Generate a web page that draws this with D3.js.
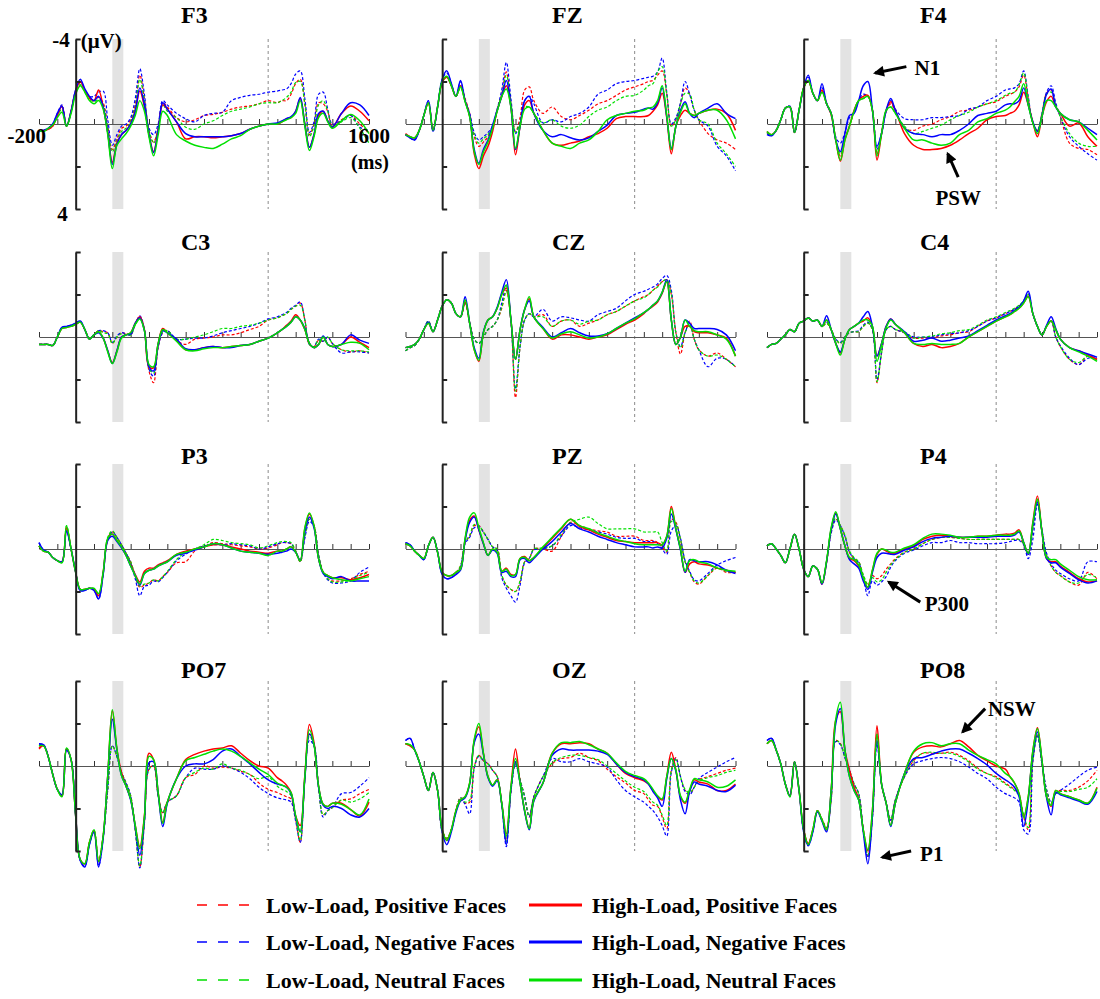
<!DOCTYPE html>
<html>
<head>
<meta charset="utf-8">
<script src="https://cdn.jsdelivr.net/npm/d3@7"></script>
<style>
  body { margin: 0; background: #fff; }
  text { font-family: "Liberation Serif", "Times New Roman", serif; font-weight: bold; fill: #000; }
</style>
</head>
<body>
<svg id="chart" width="1100" height="999"></svg>
<script>
// sample times (ms) shared by every waveform
var times = [-200,-175,-150,-125,-100,-75,-50,-25,0,25,50,75,100,125,150,175,200,225,250,275,300,325,350,375,400,425,450,475,500,
  550,600,650,700,750,800,850,900,950,1000,1050,
  1100,1125,1150,1175,1200,1225,1250,1275,1300,1325,1350,1375,1400,
  1450,1500,1550,1600];

// µV, negative plotted upward. lp/ln/lu = low load pos/neg/neutral, hp/hn/hu = high load
var F3_lp = [0.3,0.3,0.25,0.1,-0.4,-0.8,0.1,-0.6,-1.5,-1.95,-1.6,-1.2,-1.1,-1.25,-1.0,0.1,1.2,0.7,0.2,0.1,-0.2,-0.9,-2.3,-1.2,0.3,0.85,0.2,-1.0,-0.8,-0.3,-0.1,-0.2,-0.4,-0.45,-0.55,-0.7,-0.8,-0.85,-0.95,-1.1,-1.0,-1.1,-1.1,-1.4,-1.9,-2.1,-1.0,0.5,0.0,-1.0,-0.95,-0.6,0.1,-0.2,-0.4,0.0,0.4];
var F3_ln = [0.35,0.3,0.2,0.0,-0.5,-0.9,0.1,-0.6,-1.6,-2.0,-1.6,-1.3,-1.3,-1.5,-1.55,-0.2,1.0,0.5,0.1,0.0,-0.3,-1.2,-2.6,-1.4,0.2,0.5,0.0,-1.1,-0.9,-0.5,-0.25,-0.1,-0.4,-0.5,-0.55,-1.1,-1.25,-1.35,-1.4,-1.5,-1.55,-1.6,-1.65,-1.9,-2.35,-2.5,-1.2,0.4,-0.1,-1.4,-1.5,-0.7,0.0,-0.15,-0.4,0.15,0.3];
var F3_lu = [0.3,0.35,0.2,0.05,-0.35,-0.7,0.1,-0.55,-1.45,-1.85,-1.5,-1.15,-1.05,-1.15,-0.9,0.2,1.3,0.8,0.35,0.2,-0.1,-0.8,-2.1,-1.1,0.3,0.9,0.2,-0.9,-0.6,-0.3,0.15,0.25,0.0,-0.15,-0.4,-0.6,-0.7,-0.8,-0.95,-1.0,-1.0,-1.1,-1.25,-1.5,-1.95,-2.0,-0.9,0.6,0.1,-0.9,-1.1,-0.6,0.1,-0.1,-0.3,0.2,0.9];
var F3_hp = [0.3,0.3,0.25,0.1,-0.4,-0.85,0.1,-0.6,-1.55,-2.0,-1.6,-1.25,-1.1,-1.6,-0.8,0.4,1.8,0.9,0.5,0.3,0.0,-0.6,-1.55,-0.8,0.5,1.3,0.3,-0.9,-0.7,-0.1,0.7,0.6,0.6,0.65,0.6,0.55,0.45,0.25,0.1,0.0,0.0,-0.1,-0.25,-0.3,-0.6,-1.2,0.0,1.1,0.5,-0.4,-0.6,-0.15,0.15,-0.5,-0.85,-0.6,-0.15];
var F3_hn = [0.35,0.3,0.2,0.0,-0.5,-0.85,0.1,-0.6,-1.6,-2.1,-1.65,-1.3,-1.1,-1.3,-0.8,0.4,1.9,0.95,0.5,0.3,0.0,-0.6,-1.7,-0.9,0.5,1.35,0.3,-1.0,-0.7,-0.1,0.45,0.6,0.6,0.6,0.6,0.55,0.45,0.25,0.1,0.0,-0.05,-0.15,-0.25,-0.35,-0.6,-1.25,0.0,1.1,0.5,-0.5,-0.6,-0.15,0.15,-0.5,-1.0,-0.9,-0.4];
var F3_hu = [0.3,0.35,0.2,0.05,-0.3,-0.55,0.1,-0.5,-1.4,-1.8,-1.5,-1.1,-0.95,-1.1,-0.7,0.5,2.1,1.0,0.7,0.45,0.1,-0.4,-1.1,-0.6,0.6,1.5,0.5,-0.6,-0.4,0.5,0.8,1.0,1.1,1.15,0.95,0.7,0.55,0.25,0.1,0.0,0.0,-0.1,-0.2,-0.3,-0.5,-1.1,0.1,1.25,0.6,-0.3,-0.5,-0.1,0.2,-0.15,-0.45,-0.15,0.45];

var FZ_lp = [0.5,0.65,0.7,0.3,-0.4,-1.0,0.3,-0.8,-1.95,-2.2,-1.8,-1.3,-1.8,-1.2,-0.5,0.6,1.05,0.85,0.6,0.2,-0.6,-1.4,-2.45,-1.0,0.35,-0.3,-1.6,-1.75,-1.1,-0.5,-0.8,-0.35,-0.2,-0.4,-0.65,-0.95,-1.1,-1.35,-1.6,-1.75,-1.9,-2.0,-2.05,-2.3,-2.5,-1.4,0.1,-0.2,-0.95,-1.7,-1.4,-0.65,-0.2,0.45,0.75,0.9,1.2];
var FZ_ln = [0.5,0.65,0.75,0.3,-0.4,-1.1,0.35,-0.8,-2.1,-2.4,-1.9,-1.3,-2.0,-1.1,-0.5,0.4,0.75,0.6,0.4,0.1,-0.7,-1.6,-2.9,-1.2,0.45,-0.1,-1.1,-1.3,-0.95,-0.05,-0.2,-0.1,-0.35,-0.5,-0.8,-1.4,-1.6,-1.9,-2.0,-2.05,-2.15,-2.2,-2.25,-2.45,-3.1,-1.5,0.0,-0.3,-1.0,-2.0,-1.4,-0.65,-0.2,0.1,1.05,1.5,2.2];
var FZ_lu = [0.5,0.6,0.65,0.3,-0.4,-1.0,0.3,-0.8,-2.0,-2.2,-1.8,-1.3,-1.7,-1.05,-0.4,0.5,0.9,0.7,0.5,0.15,-0.6,-1.35,-2.3,-1.0,0.4,-0.1,-0.8,-0.8,-0.5,-0.05,-0.2,0.1,0.2,0.05,-0.35,-0.65,-0.8,-1.1,-1.3,-1.35,-1.6,-1.8,-1.9,-2.45,-2.7,-1.4,0.1,-0.2,-0.95,-1.45,-1.4,-0.65,-0.2,0.0,0.9,1.4,2.0];
var FZ_hp = [0.45,0.6,0.65,0.3,-0.4,-1.0,0.3,-0.8,-1.95,-2.2,-1.8,-1.3,-1.8,-1.1,-0.35,1.4,2.1,1.5,1.05,0.35,-0.65,-1.3,-1.8,-0.8,1.45,0.1,-0.9,-1.1,-0.5,0.3,0.9,1.0,0.9,0.8,0.6,0.45,0.2,-0.25,-0.35,-0.35,-0.35,-0.4,-0.6,-0.9,-1.45,-0.3,1.4,0.1,-0.4,-0.65,-0.5,-0.4,-0.5,-0.65,-0.7,-0.5,0.3];
var FZ_hn = [0.5,0.65,0.75,0.3,-0.4,-1.1,0.35,-0.8,-2.1,-2.5,-1.9,-1.3,-2.05,-1.1,-0.4,1.2,1.85,1.2,0.75,0.05,-0.65,-1.3,-2.05,-0.8,1.2,0.1,-1.1,-1.3,-0.5,0.3,0.6,0.5,0.65,0.75,0.65,0.35,0.05,-0.4,-0.5,-0.55,-0.7,-0.75,-0.7,-1.0,-1.7,-0.35,1.15,0.1,-0.65,-1.05,-0.5,-0.3,-0.5,-0.75,-0.95,-0.5,-0.25];
var FZ_hu = [0.5,0.6,0.65,0.3,-0.4,-1.0,0.3,-0.8,-2.0,-2.25,-1.8,-1.3,-1.75,-1.05,-0.35,1.3,1.9,1.3,0.85,0.2,-0.6,-1.3,-1.65,-0.8,1.15,0.1,-0.7,-0.8,-0.5,0.3,0.9,1.05,1.15,0.9,0.75,0.35,-0.2,-0.4,-0.5,-0.6,-0.65,-0.75,-0.8,-1.1,-1.8,-0.4,1.2,0.1,-0.55,-0.95,-0.5,-0.4,-0.5,-0.65,-0.65,-0.2,0.7];

var F4_lp = [0.4,0.5,0.3,-0.2,-0.75,-0.8,0.4,-0.65,-1.7,-2.05,-1.45,-1.1,-1.55,-0.95,-0.4,0.8,1.5,0.7,0.1,-0.6,-1.1,-1.2,-1.3,-0.65,1.4,0.45,-0.6,-0.95,-0.6,0.2,0.3,0.1,0.0,-0.2,-0.35,-0.6,-0.65,-0.8,-0.95,-1.05,-1.3,-1.4,-1.5,-1.75,-2.3,-1.2,-0.05,0.3,-0.5,-1.45,-1.6,-0.9,-0.35,0.9,1.15,1.2,1.45];
var F4_ln = [0.45,0.55,0.3,-0.2,-0.75,-0.85,0.4,-0.65,-1.7,-2.2,-1.45,-1.1,-1.7,-1.0,-0.5,0.6,0.9,0.4,-0.3,-0.5,-1.1,-1.4,-1.3,-0.65,1.2,0.4,-0.6,-1.1,-0.7,-0.25,-0.2,-0.2,-0.3,-0.3,-0.35,-0.4,-0.7,-0.8,-1.1,-1.3,-1.6,-1.65,-1.7,-1.9,-2.5,-1.3,-0.05,0.3,-0.5,-1.5,-1.8,-1.0,-0.35,0.6,1.05,1.4,1.7];
var F4_lu = [0.4,0.5,0.3,-0.2,-0.75,-0.8,0.4,-0.65,-1.7,-2.05,-1.45,-1.1,-1.5,-0.95,-0.45,0.75,1.4,0.7,0.1,-0.6,-1.1,-1.2,-1.3,-0.65,1.35,0.45,-0.6,-0.8,-0.5,0.1,0.45,0.35,0.2,0.05,-0.2,-0.4,-0.55,-0.8,-0.95,-1.1,-1.35,-1.45,-1.5,-1.85,-2.4,-1.2,-0.05,0.3,-0.45,-1.4,-1.5,-0.9,-0.35,0.45,0.9,1.05,1.05];
var F4_hp = [0.35,0.5,0.3,-0.2,-0.75,-0.8,0.4,-0.65,-1.7,-2.05,-1.45,-1.1,-1.6,-0.95,-0.5,0.75,1.75,0.75,0.1,-0.65,-1.1,-1.3,-1.35,-0.65,1.7,0.45,-0.65,-1.05,-0.65,0.45,1.0,1.2,1.2,1.15,1.0,0.75,0.45,0.2,-0.2,-0.35,-0.4,-0.5,-0.6,-0.9,-1.5,-0.9,-0.1,0.6,-0.35,-1.05,-1.3,-0.8,-0.5,0.1,-0.05,0.6,1.05];
var F4_hn = [0.5,0.55,0.3,-0.2,-0.75,-0.8,0.4,-0.65,-1.7,-2.3,-1.45,-1.1,-1.9,-0.95,-0.5,0.75,1.3,0.45,-0.4,-0.5,-1.1,-1.8,-2.0,-0.65,1.05,0.45,-0.65,-1.2,-0.65,0.2,0.45,0.5,0.6,0.5,0.5,0.3,0.0,-0.4,-0.5,-0.6,-0.9,-0.95,-0.95,-1.1,-1.7,-0.9,-0.1,0.35,-0.35,-1.4,-1.65,-0.8,-0.5,-0.2,-0.1,0.2,0.5];
var F4_hu = [0.35,0.5,0.3,-0.2,-0.75,-0.8,0.4,-0.65,-1.7,-2.05,-1.45,-1.1,-1.5,-0.95,-0.5,0.75,1.7,0.75,0.1,-0.6,-1.1,-1.2,-1.3,-0.65,1.5,0.45,-0.65,-0.8,-0.5,0.2,0.75,0.75,0.9,1.0,0.9,0.5,0.3,-0.1,-0.25,-0.5,-0.65,-0.8,-1.05,-1.3,-1.9,-0.9,-0.05,0.45,-0.35,-1.1,-1.1,-0.8,-0.5,-0.2,-0.1,0.3,0.75];

var C3_lp = [0.35,0.35,0.35,0.4,0.0,-0.4,-0.5,-0.55,-0.6,-0.7,-0.35,0.05,-0.1,-0.3,-0.25,-0.2,0.3,0.0,-0.2,-0.15,-0.1,-0.6,-0.95,-0.3,1.6,2.15,0.5,-0.2,-0.3,0.15,0.35,0.1,0.05,0.0,-0.1,-0.1,-0.2,-0.35,-0.5,-0.8,-0.9,-1.0,-1.1,-1.3,-1.45,-1.6,-0.8,0.35,0.45,0.15,0.2,0.0,0.3,0.6,0.7,0.65,0.75];
var C3_ln = [0.35,0.35,0.35,0.4,0.0,-0.45,-0.5,-0.55,-0.65,-0.75,-0.35,0.05,-0.1,-0.3,-0.3,-0.2,0.25,-0.05,-0.2,-0.15,-0.1,-0.6,-1.0,-0.35,1.5,1.85,0.45,-0.2,-0.3,0.1,0.1,0.05,0.05,-0.05,-0.2,-0.3,-0.4,-0.5,-0.65,-0.85,-0.95,-1.05,-1.15,-1.35,-1.5,-1.65,-0.8,0.35,0.45,0.1,0.2,0.0,0.3,0.75,0.7,0.7,0.75];
var C3_lu = [0.35,0.35,0.35,0.4,0.0,-0.4,-0.5,-0.55,-0.6,-0.7,-0.35,0.05,-0.1,-0.3,-0.2,-0.15,0.3,0.0,-0.15,-0.1,-0.1,-0.55,-0.9,-0.3,1.45,1.7,0.4,-0.25,-0.3,0.1,0.1,0.0,-0.1,-0.25,-0.4,-0.4,-0.5,-0.55,-0.65,-0.8,-0.9,-1.0,-1.1,-1.3,-1.45,-1.5,-0.8,0.35,0.45,0.15,0.2,0.0,0.3,0.6,0.65,0.65,0.7];
var C3_hp = [0.35,0.35,0.35,0.4,0.0,-0.4,-0.45,-0.5,-0.6,-0.7,-0.35,0.1,-0.1,-0.25,0.05,0.65,1.2,0.65,0.0,-0.1,-0.2,-0.65,-0.95,-0.35,1.4,1.45,0.3,-0.4,-0.2,0.15,0.6,0.6,0.5,0.45,0.5,0.45,0.4,0.35,0.2,0.05,-0.2,-0.35,-0.55,-0.75,-1.05,-0.8,-0.35,0.3,0.5,0.35,0.0,0.35,0.45,0.35,0.0,0.25,0.5];
var C3_hn = [0.35,0.35,0.35,0.4,0.0,-0.45,-0.5,-0.55,-0.65,-0.75,-0.35,0.1,-0.1,-0.2,0.05,0.65,1.25,0.65,0.0,-0.1,-0.15,-0.65,-0.9,-0.3,1.4,1.6,0.35,-0.3,-0.2,0.1,0.55,0.6,0.5,0.45,0.5,0.5,0.4,0.35,0.2,0.05,-0.2,-0.35,-0.5,-0.7,-0.95,-0.8,-0.4,0.3,0.5,0.35,-0.05,0.35,0.45,0.35,-0.1,0.15,0.3];
var C3_hu = [0.35,0.35,0.35,0.4,0.0,-0.4,-0.45,-0.5,-0.6,-0.7,-0.35,0.1,-0.1,-0.25,0.05,0.7,1.25,0.7,0.05,-0.1,-0.2,-0.6,-0.85,-0.3,1.3,1.4,0.3,-0.35,-0.2,0.2,0.6,0.65,0.55,0.5,0.5,0.45,0.4,0.35,0.2,0.05,-0.2,-0.35,-0.5,-0.7,-0.95,-0.8,-0.35,0.3,0.5,0.35,0.0,0.35,0.45,0.35,0.25,0.3,0.6];

var CZ_lp = [0.65,0.5,0.4,0.1,-0.35,-0.75,-0.25,-0.8,-1.45,-1.75,-1.6,-1.1,-0.95,-1.65,-0.65,0.1,0.3,0.0,-0.35,-0.5,-0.8,-1.35,-2.2,-0.8,2.85,0.45,-0.8,-1.1,-0.95,-1.05,-0.5,-0.75,-0.8,-0.5,-0.65,-0.8,-1.05,-1.2,-1.45,-1.7,-1.9,-2.0,-2.2,-2.4,-2.6,-2.7,-2.0,-0.2,0.8,-0.2,-0.75,0.1,0.6,0.9,0.75,1.05,1.4];
var CZ_ln = [0.65,0.5,0.4,0.1,-0.35,-0.75,-0.25,-0.8,-1.45,-1.75,-1.6,-1.1,-0.95,-1.65,-0.65,0.1,0.3,0.0,-0.35,-0.5,-0.8,-1.6,-2.4,-0.8,2.45,0.45,-0.8,-1.1,-0.95,-1.3,-0.75,-0.95,-0.9,-0.8,-0.75,-1.05,-1.2,-1.35,-1.7,-2.0,-2.15,-2.25,-2.35,-2.5,-2.75,-2.9,-2.2,-0.2,0.45,-0.2,-0.65,0.1,0.6,1.4,1.0,1.05,1.4];
var CZ_lu = [0.65,0.5,0.4,0.1,-0.35,-0.75,-0.25,-0.8,-1.45,-1.75,-1.6,-1.1,-0.95,-1.65,-0.65,0.1,0.3,0.0,-0.35,-0.5,-0.8,-1.4,-2.15,-0.8,2.55,0.45,-0.8,-1.1,-0.95,-0.95,-0.5,-0.75,-0.8,-0.6,-0.75,-0.8,-1.05,-1.2,-1.45,-1.7,-1.85,-2.0,-2.2,-2.35,-2.6,-2.7,-2.0,-0.2,0.5,-0.2,-0.6,0.1,0.6,0.9,0.85,1.05,1.4];
var CZ_hp = [0.5,0.45,0.35,0.1,-0.35,-0.65,-0.25,-0.8,-1.45,-1.75,-1.6,-1.1,-0.95,-1.65,-0.65,0.6,1.15,-0.2,-0.8,-0.95,-1.35,-2.0,-2.3,-0.8,1.05,-0.35,-1.3,-1.8,-0.95,-0.4,0.1,-0.1,-0.1,0.0,0.1,0.0,-0.1,-0.35,-0.6,-0.8,-1.1,-1.3,-1.45,-1.65,-2.05,-2.6,-0.8,0.35,0.0,-0.5,-0.5,-0.25,-0.2,-0.2,-0.1,0.05,0.9];
var CZ_hn = [0.5,0.45,0.35,0.1,-0.35,-0.7,-0.25,-0.8,-1.45,-1.75,-1.6,-1.1,-0.95,-1.9,-0.65,0.5,1.0,-0.25,-0.8,-0.95,-1.4,-2.1,-2.7,-0.8,1.05,-0.35,-1.3,-1.7,-0.95,-0.45,0.0,-0.2,-0.4,-0.2,-0.05,-0.05,-0.15,-0.4,-0.65,-0.9,-1.15,-1.3,-1.5,-1.7,-2.1,-2.7,-0.8,0.35,0.0,-0.8,-0.65,-0.4,-0.4,-0.4,-0.35,-0.1,0.65];
var CZ_hu = [0.5,0.45,0.35,0.1,-0.35,-0.65,-0.25,-0.8,-1.45,-1.75,-1.6,-1.1,-0.95,-1.75,-0.65,0.6,1.1,-0.2,-0.8,-0.95,-1.35,-2.0,-2.45,-0.8,1.05,-0.35,-1.3,-1.9,-0.95,-0.4,0.05,-0.15,-0.25,-0.1,0.05,0.0,-0.15,-0.4,-0.65,-0.85,-1.15,-1.3,-1.5,-1.7,-2.1,-2.6,-0.8,0.35,0.0,-0.8,-0.5,-0.3,-0.25,-0.25,-0.1,0.1,0.9];

var C4_lp = [0.5,0.35,0.3,0.1,-0.1,-0.35,-0.25,-0.65,-0.75,-0.9,-0.75,-0.8,-0.5,-0.65,-0.35,0.1,0.3,0.0,-0.2,-0.25,-0.25,-0.5,-0.65,-0.35,2.15,0.75,-0.35,-0.5,-0.35,-0.2,0.05,0.05,0.05,-0.05,-0.1,-0.2,-0.25,-0.5,-0.75,-0.9,-1.1,-1.2,-1.3,-1.45,-1.65,-2.0,-1.1,-0.5,-0.1,-0.5,-0.75,0.0,0.45,1.05,1.3,0.9,1.05];
var C4_ln = [0.5,0.35,0.3,0.1,-0.1,-0.35,-0.25,-0.65,-0.75,-0.9,-0.75,-0.8,-0.5,-0.7,-0.35,0.1,0.25,0.0,-0.2,-0.25,-0.3,-0.55,-0.7,-0.35,2.0,0.7,-0.35,-0.5,-0.35,-0.2,0.0,0.0,0.0,-0.1,-0.15,-0.2,-0.3,-0.5,-0.75,-0.9,-1.1,-1.2,-1.3,-1.45,-1.7,-2.05,-1.1,-0.5,-0.1,-0.5,-0.75,0.0,0.4,1.0,1.3,1.0,1.0];
var C4_lu = [0.5,0.35,0.3,0.1,-0.1,-0.35,-0.25,-0.65,-0.75,-0.9,-0.75,-0.8,-0.5,-0.65,-0.35,0.1,0.3,0.0,-0.2,-0.25,-0.25,-0.5,-0.65,-0.35,2.1,0.75,-0.35,-0.5,-0.35,-0.25,0.05,0.0,-0.05,-0.15,-0.2,-0.3,-0.35,-0.55,-0.8,-0.95,-1.15,-1.25,-1.35,-1.5,-1.7,-2.0,-1.1,-0.5,-0.1,-0.5,-0.75,0.0,0.45,1.05,1.2,0.9,1.1];
var C4_hp = [0.5,0.35,0.3,0.1,-0.1,-0.35,-0.25,-0.65,-0.75,-0.9,-0.75,-0.8,-0.5,-0.8,-0.35,0.3,0.75,0.1,-0.35,-0.5,-0.65,-0.75,-0.9,-0.5,0.9,0.3,-0.5,-0.85,-0.6,-0.2,0.3,0.45,0.35,0.5,0.45,0.3,0.0,-0.25,-0.5,-0.75,-0.95,-1.05,-1.2,-1.35,-1.6,-1.9,-1.1,-0.5,-0.1,-0.5,-0.75,-0.35,0.1,0.5,0.65,0.85,1.05];
var C4_hn = [0.5,0.35,0.3,0.1,-0.1,-0.35,-0.25,-0.65,-0.75,-0.9,-0.75,-0.8,-0.5,-1.0,-0.35,0.3,0.7,0.1,-0.35,-0.5,-0.65,-0.95,-1.2,-0.5,0.9,0.3,-0.5,-0.85,-0.6,-0.25,0.2,0.15,0.05,0.2,0.15,0.05,-0.05,-0.3,-0.55,-0.8,-1.0,-1.1,-1.25,-1.4,-1.7,-2.15,-1.1,-0.5,-0.1,-0.55,-0.95,-0.4,0.1,0.5,0.65,0.8,0.95];
var C4_hu = [0.5,0.35,0.3,0.1,-0.1,-0.35,-0.25,-0.65,-0.75,-0.9,-0.75,-0.8,-0.5,-0.8,-0.35,0.3,0.85,0.1,-0.35,-0.5,-0.65,-0.8,-0.8,-0.5,1.15,0.35,-0.45,-0.8,-0.6,-0.2,0.3,0.35,0.3,0.35,0.35,0.3,0.0,-0.25,-0.5,-0.75,-0.95,-1.05,-1.2,-1.35,-1.6,-1.9,-1.1,-0.5,-0.1,-0.5,-0.75,-0.35,0.1,0.5,0.7,0.9,1.15];

var P3_lp = [-0.15,0.1,0.15,0.4,0.55,0.6,-1.0,0.0,1.1,1.9,1.9,1.85,1.9,2.2,1.1,-0.5,-0.8,-0.55,-0.2,0.2,0.6,1.3,1.8,1.7,1.6,1.45,1.5,1.3,1.1,0.65,0.6,0.1,-0.1,-0.3,-0.25,-0.2,-0.15,-0.1,0.0,-0.05,-0.2,-0.3,-0.3,-0.25,0.1,0.6,-0.6,-1.4,-1.1,0.3,1.1,1.4,1.5,1.5,1.4,1.2,1.05];
var P3_ln = [-0.3,0.05,0.15,0.4,0.55,0.6,-0.85,0.0,1.1,1.95,1.95,1.85,1.95,2.35,1.2,-0.45,-0.8,-0.55,-0.2,0.2,0.65,1.4,2.2,1.75,1.7,1.5,1.55,1.35,1.1,0.55,0.25,0.0,-0.15,-0.2,-0.2,-0.25,-0.2,-0.15,0.0,-0.1,-0.25,-0.3,-0.3,-0.25,0.1,0.55,-0.5,-1.3,-1.05,0.3,1.1,1.45,1.6,1.6,1.5,1.1,0.85];
var P3_lu = [-0.15,0.1,0.15,0.4,0.55,0.65,-1.1,0.0,1.1,1.9,1.9,1.85,1.85,2.1,1.1,-0.55,-0.85,-0.55,-0.2,0.2,0.6,1.25,1.75,1.65,1.6,1.45,1.5,1.3,1.05,0.5,0.15,0.0,-0.2,-0.45,-0.4,-0.3,-0.25,-0.2,-0.05,-0.15,-0.3,-0.35,-0.35,-0.3,0.1,0.6,-0.6,-1.4,-1.1,0.3,1.1,1.4,1.55,1.55,1.45,1.25,1.1];
var P3_hp = [-0.15,0.1,0.15,0.4,0.55,0.6,-1.0,0.0,1.1,1.9,1.9,1.85,1.9,2.2,1.1,-0.45,-0.7,-0.4,-0.1,0.3,0.75,1.2,1.55,1.05,0.9,0.9,0.75,0.65,0.55,0.25,0.1,0.0,-0.1,-0.2,-0.2,-0.1,0.0,0.1,0.15,0.2,0.1,0.1,0.0,-0.1,0.15,0.55,-0.95,-1.65,-1.1,0.45,1.1,1.25,1.35,1.35,1.45,1.35,1.2];
var P3_hn = [-0.3,0.05,0.15,0.4,0.55,0.6,-0.85,0.0,1.1,1.95,1.95,1.85,1.95,2.35,1.2,-0.4,-0.6,-0.35,-0.05,0.3,0.8,1.25,1.7,1.15,1.0,0.95,0.8,0.7,0.6,0.3,0.2,0.05,-0.1,-0.25,-0.2,-0.05,0.1,0.15,0.2,0.25,0.2,0.15,0.1,0.0,0.15,0.55,-0.8,-1.5,-1.0,0.45,1.15,1.3,1.4,1.3,1.5,1.5,1.5];
var P3_hu = [-0.15,0.1,0.15,0.4,0.55,0.65,-1.1,0.0,1.1,1.9,1.9,1.85,1.85,2.1,1.1,-0.5,-0.7,-0.4,-0.1,0.3,0.8,1.25,1.65,1.15,1.0,0.95,0.8,0.7,0.6,0.25,0.15,0.0,-0.1,-0.25,-0.2,-0.05,0.1,0.15,0.2,0.3,0.1,0.1,0.0,-0.1,0.15,0.55,-1.0,-1.7,-1.1,0.45,1.1,1.25,1.35,1.45,1.5,1.4,1.3];

var PZ_lp = [-0.25,-0.15,0.1,0.3,0.45,-0.15,-0.55,0.15,1.1,1.25,1.25,1.1,0.8,-0.3,-0.6,-1.1,-1.1,-0.8,-0.45,-0.1,0.0,1.25,1.7,1.9,2.0,1.55,0.6,0.45,0.0,0.0,0.1,-0.6,-1.25,-1.1,-0.95,-0.85,-0.8,-0.6,-0.6,-0.6,-0.4,-0.4,-0.4,-0.3,-0.1,0.15,-1.4,-1.25,-0.45,0.6,1.1,1.55,1.65,1.25,0.9,1.1,1.1];
var PZ_ln = [-0.3,-0.2,0.1,0.3,0.5,-0.15,-0.55,0.15,1.2,1.4,1.35,1.2,0.85,-0.25,-0.55,-1.0,-1.05,-0.8,-0.45,-0.1,0.05,1.35,1.85,2.2,2.5,1.7,0.65,0.45,0.05,0.0,-0.15,-0.6,-1.1,-1.0,-0.9,-0.8,-0.7,-0.55,-0.5,-0.5,-0.35,-0.35,-0.35,-0.25,0.0,0.25,-0.85,-1.1,-0.5,0.55,1.05,1.45,1.5,1.15,0.75,0.55,0.4];
var PZ_lu = [-0.25,-0.15,0.1,0.3,0.45,-0.15,-0.55,0.15,1.1,1.25,1.25,1.1,0.8,-0.3,-0.65,-1.15,-1.1,-0.8,-0.45,-0.1,0.0,1.2,1.7,1.9,2.0,1.5,0.6,0.45,0.0,-0.05,-0.15,-0.7,-1.25,-1.4,-1.5,-1.2,-0.95,-0.95,-0.95,-0.95,-0.8,-0.8,-0.8,-0.8,-0.3,0.1,-1.3,-1.2,-0.45,0.6,1.1,1.5,1.6,1.25,0.85,1.05,1.1];
var PZ_hp = [-0.25,-0.15,0.1,0.3,0.45,-0.15,-0.55,0.15,1.1,1.25,1.25,1.1,0.95,-0.45,-1.35,-1.55,-0.9,-0.25,0.3,0.0,0.15,1.05,0.9,1.2,1.2,0.45,0.35,0.55,0.4,-0.05,-0.5,-0.95,-1.4,-1.05,-0.9,-0.7,-0.55,-0.4,-0.35,-0.3,-0.3,-0.3,-0.3,-0.3,-0.2,-0.6,-2.0,-0.95,0.0,1.1,0.7,0.6,0.7,0.75,0.9,1.0,1.1];
var PZ_hn = [-0.3,-0.2,0.1,0.3,0.5,-0.15,-0.55,0.15,1.2,1.4,1.35,1.2,1.0,-0.4,-1.25,-1.5,-0.9,-0.25,0.3,0.05,0.2,1.1,1.05,1.3,1.3,0.5,0.45,0.65,0.45,0.0,-0.35,-0.8,-1.2,-0.95,-0.8,-0.6,-0.45,-0.3,-0.2,-0.1,-0.1,-0.1,-0.05,-0.1,-0.05,-0.5,-1.65,-0.9,0.05,1.1,0.5,0.55,0.6,0.6,0.75,1.0,1.15];
var PZ_hu = [-0.25,-0.15,0.1,0.3,0.45,-0.15,-0.55,0.15,1.1,1.25,1.25,1.1,0.95,-0.5,-1.5,-1.7,-1.0,-0.3,0.3,0.0,0.15,1.05,0.95,1.25,1.2,0.45,0.4,0.55,0.4,-0.1,-0.55,-1.0,-1.4,-1.1,-0.95,-0.75,-0.6,-0.45,-0.35,-0.25,-0.2,-0.2,-0.2,-0.2,-0.2,-0.6,-1.9,-0.95,0.0,1.05,0.55,0.5,0.6,0.7,0.9,1.0,1.05];

var P4_lp = [-0.15,-0.25,0.0,0.3,0.65,0.0,-0.7,0.0,0.95,1.3,0.8,0.95,1.65,0.6,-0.8,-1.4,-1.1,-0.6,0.15,0.45,0.6,1.25,1.7,1.25,1.4,1.25,0.95,0.7,0.45,0.15,0.0,-0.25,-0.45,-0.55,-0.55,-0.5,-0.45,-0.45,-0.45,-0.45,-0.45,-0.45,-0.45,-0.45,-0.25,0.25,-0.95,-2.25,-0.8,0.3,0.8,1.1,1.25,1.55,1.7,1.1,1.4];
var P4_ln = [-0.15,-0.25,0.0,0.3,0.65,0.0,-0.7,0.0,0.95,1.3,0.8,0.95,1.65,0.6,-0.75,-1.35,-1.1,-0.6,0.15,0.45,0.65,1.35,2.2,1.5,1.7,1.55,1.3,0.85,0.55,0.2,0.05,-0.15,-0.3,-0.3,-0.4,-0.3,-0.3,-0.25,-0.25,-0.25,-0.3,-0.35,-0.4,-0.4,-0.2,0.45,-0.45,-2.1,-0.9,0.2,0.7,1.0,1.15,1.4,1.5,0.6,0.6];
var P4_lu = [-0.15,-0.25,0.0,0.3,0.65,0.0,-0.7,0.0,0.95,1.3,0.8,0.95,1.6,0.55,-0.85,-1.45,-1.1,-0.65,0.1,0.4,0.6,1.2,1.65,1.35,1.55,1.45,1.1,0.75,0.5,0.15,0.0,-0.25,-0.45,-0.55,-0.55,-0.5,-0.45,-0.45,-0.45,-0.45,-0.45,-0.45,-0.45,-0.45,-0.25,0.25,-0.95,-2.3,-0.8,0.3,0.8,1.1,1.25,1.55,1.6,1.2,1.35];
var P4_hp = [-0.15,-0.25,0.0,0.3,0.65,0.0,-0.7,0.0,0.95,1.3,0.8,0.95,1.65,0.6,-0.95,-1.7,-0.95,-0.15,0.45,0.55,0.8,1.4,1.8,1.0,0.25,0.0,0.1,0.2,0.2,0.0,-0.15,-0.45,-0.6,-0.65,-0.6,-0.55,-0.55,-0.6,-0.6,-0.65,-0.7,-0.7,-0.75,-0.9,-0.3,0.2,-1.25,-2.5,-0.8,0.45,0.6,0.6,0.8,1.1,1.4,1.55,1.5];
var P4_hn = [-0.15,-0.25,0.0,0.3,0.65,0.0,-0.7,0.0,0.95,1.3,0.8,0.95,1.65,0.6,-0.9,-1.65,-0.95,-0.15,0.5,0.7,0.9,1.5,1.9,1.1,0.4,0.2,0.2,0.25,0.25,0.05,-0.1,-0.35,-0.5,-0.55,-0.6,-0.55,-0.55,-0.55,-0.55,-0.6,-0.6,-0.6,-0.65,-0.8,-0.3,0.25,-1.1,-2.2,-0.8,0.45,0.65,0.65,0.85,1.15,1.45,1.6,1.5];
var P4_hu = [-0.15,-0.25,0.0,0.3,0.65,0.0,-0.7,0.0,0.95,1.3,0.8,0.95,1.6,0.55,-1.0,-1.75,-0.95,-0.15,0.4,0.5,0.75,1.35,1.8,1.0,0.2,0.0,0.05,0.15,0.15,-0.05,-0.2,-0.5,-0.7,-0.7,-0.65,-0.55,-0.55,-0.6,-0.6,-0.65,-0.65,-0.65,-0.7,-0.85,-0.3,0.2,-1.2,-2.35,-0.8,0.4,0.5,0.5,0.7,1.0,1.3,1.45,1.45];

var PO7_lp = [-0.8,-0.95,-0.45,0.4,1.1,1.4,-0.8,-0.3,2.35,4.4,4.6,3.6,3.05,4.5,3.3,1.1,-0.95,-0.45,0.3,0.8,1.4,3.0,4.75,2.65,0.15,0.0,1.4,2.2,1.7,1.4,0.55,0.4,0.0,0.1,0.05,0.1,0.25,0.4,0.8,1.1,1.25,1.35,1.45,1.55,2.5,3.6,0.6,-1.5,-1.0,1.0,2.3,2.1,1.95,1.6,1.55,1.3,1.1];
var PO7_ln = [-1.0,-1.0,-0.45,0.4,1.1,1.35,-0.75,-0.3,2.35,4.45,4.7,3.7,3.1,4.7,3.4,1.1,-0.95,-0.45,0.3,0.8,1.4,3.0,4.8,2.7,0.15,0.0,1.4,2.2,1.7,1.4,0.55,0.1,0.15,0.15,0.0,0.1,0.3,0.6,1.0,1.3,1.5,1.55,1.6,1.7,2.6,3.6,0.6,-1.2,-0.95,1.0,2.4,2.1,1.95,1.3,1.25,0.95,0.55];
var PO7_lu = [-0.95,-0.95,-0.45,0.4,1.1,1.45,-0.85,-0.3,2.35,4.4,4.6,3.6,3.0,4.5,3.3,1.1,-0.95,-0.45,0.3,0.8,1.4,3.0,4.7,2.6,0.15,0.0,1.4,2.2,1.7,1.4,0.55,0.3,0.1,0.15,-0.1,0.1,0.2,0.4,0.6,0.5,0.95,1.1,1.2,1.4,2.4,3.5,0.6,-1.4,-1.0,1.0,2.3,2.1,1.95,1.6,1.7,1.55,1.25];
var PO7_hp = [-0.85,-0.95,-0.45,0.4,1.1,1.4,-0.8,-0.3,2.35,4.4,4.6,3.6,3.05,4.5,3.3,0.45,-2.6,-0.8,0.3,0.95,1.55,2.8,3.8,2.35,-0.6,-0.3,1.25,2.65,1.7,0.6,-0.3,-0.55,-0.7,-0.8,-0.85,-0.95,-0.6,-0.25,0.0,0.1,0.55,0.7,0.9,1.25,2.35,2.8,0.45,-1.95,-1.1,0.95,1.8,1.9,1.75,1.75,2.05,2.35,1.7];
var PO7_hn = [-1.05,-1.0,-0.45,0.4,1.1,1.35,-0.75,-0.3,2.35,4.45,4.75,3.7,3.1,4.75,3.4,0.5,-2.2,-0.75,0.45,0.95,1.6,2.85,4.2,2.5,-0.15,-0.2,1.3,2.85,1.75,0.6,0.0,-0.1,-0.1,-0.3,-0.7,-0.8,-0.45,-0.1,0.3,0.65,0.85,0.9,1.0,1.3,2.4,3.1,0.6,-1.5,-1.0,1.0,1.85,2.0,1.9,2.0,2.3,2.4,2.0];
var PO7_hu = [-0.95,-0.95,-0.45,0.4,1.1,1.45,-0.85,-0.3,2.35,4.4,4.6,3.6,3.0,4.5,3.3,0.45,-2.65,-0.8,0.45,0.95,1.55,2.8,3.9,2.4,-0.45,-0.3,1.25,2.7,1.7,0.6,-0.25,-0.4,-0.55,-0.7,-0.8,-0.7,-0.45,-0.15,0.15,0.4,0.8,0.9,1.0,1.25,2.35,3.1,0.5,-1.7,-1.0,0.95,1.8,1.9,1.75,1.8,2.05,2.3,1.55];

var OZ_lp = [-1.05,-0.95,-0.75,-0.2,0.5,1.15,0.3,1.15,3.0,3.4,3.0,2.1,1.5,1.75,1.7,0.05,-0.5,-0.25,-0.1,0.2,0.5,1.75,3.5,1.15,-0.1,0.65,1.45,2.4,1.45,0.5,-0.1,-0.35,-0.4,-0.6,-0.4,-0.25,0.15,0.5,0.8,1.15,1.3,1.6,1.85,1.9,2.4,2.95,0.2,-0.4,0.5,1.15,1.3,1.0,0.65,0.5,0.35,0.2,0.1];
var OZ_ln = [-1.2,-1.3,-0.75,-0.2,0.5,1.15,0.3,1.15,3.1,3.5,3.0,2.15,1.5,1.8,2.25,0.1,-0.45,-0.25,-0.1,0.2,0.5,1.8,3.8,1.2,-0.1,0.65,1.45,2.4,1.45,0.5,-0.35,-0.2,-0.2,-0.35,-0.2,-0.1,0.05,0.65,1.15,1.45,1.7,1.9,2.1,2.4,2.8,3.3,0.3,-0.35,0.5,1.2,1.35,1.0,0.6,0.3,0.05,-0.2,-0.4];
var OZ_lu = [-1.05,-1.0,-0.75,-0.2,0.5,1.15,0.3,1.15,3.0,3.4,3.0,2.1,1.5,1.7,1.6,0.05,-0.5,-0.25,-0.1,0.2,0.5,1.75,3.55,1.1,-0.1,0.65,1.45,2.35,1.45,0.5,-0.15,-0.4,-0.5,-0.5,-0.4,-0.3,0.0,0.35,0.7,1.0,1.2,1.45,1.7,1.85,2.3,2.8,0.2,-0.3,0.5,1.1,1.25,1.0,0.7,0.55,0.45,0.3,0.2];
var OZ_hp = [-1.05,-0.95,-0.75,-0.2,0.5,1.15,0.3,1.15,3.0,3.5,3.0,2.1,1.6,1.45,0.8,-1.2,-1.85,-0.6,0.5,0.9,0.65,1.75,3.2,1.0,-0.8,0.8,2.1,2.95,1.6,0.8,-0.6,-1.05,-1.05,-1.1,-1.05,-0.8,-0.6,-0.1,0.35,0.55,0.7,0.85,1.15,1.45,1.6,0.5,-0.65,0.2,1.45,1.75,1.15,0.65,0.75,0.85,1.15,1.15,0.85];
var OZ_hn = [-1.2,-1.3,-0.75,-0.2,0.5,1.15,0.3,1.15,3.1,3.7,3.1,2.2,1.65,1.5,0.85,-1.1,-1.5,-0.55,0.55,0.95,0.7,1.8,3.7,1.1,-0.2,0.8,2.15,3.0,1.65,0.8,-0.5,-0.8,-0.75,-0.75,-0.75,-0.7,-0.55,-0.1,0.3,0.5,0.65,0.85,1.2,1.5,1.9,0.6,-0.35,0.25,1.6,2.25,1.2,0.75,0.85,0.95,1.15,1.2,0.9];
var OZ_hu = [-1.05,-1.0,-0.75,-0.2,0.5,1.15,0.3,1.15,3.0,3.5,3.0,2.1,1.6,1.45,0.8,-1.25,-2.0,-0.6,0.5,0.9,0.65,1.75,3.3,1.0,-0.35,0.8,2.1,2.95,1.6,0.8,-0.6,-1.1,-1.1,-1.15,-1.0,-0.8,-0.6,-0.15,0.25,0.45,0.6,0.8,1.1,1.4,1.55,0.5,-0.35,0.2,1.4,1.7,1.1,0.6,0.65,0.75,1.0,0.95,0.65];

var PO8_lp = [-1.05,-1.2,-0.75,-0.1,0.85,1.4,-0.2,1.15,3.0,3.65,3.0,2.1,2.5,2.9,1.6,-1.2,-1.05,-0.4,0.2,0.85,1.3,3.0,4.25,2.4,-1.45,0.85,1.75,2.55,1.6,0.5,-0.25,-0.6,-0.6,-0.6,-0.65,-0.5,-0.25,0.1,0.35,0.5,0.8,0.95,1.1,1.35,2.4,3.0,-0.25,-1.5,-0.1,1.15,1.75,1.3,1.15,1.15,1.0,0.7,0.2];
var PO8_ln = [-1.2,-1.3,-0.75,-0.1,0.85,1.4,-0.2,1.15,3.1,3.75,3.1,2.15,2.55,3.0,1.6,-1.15,-1.0,-0.4,0.2,0.85,1.3,3.0,4.3,2.5,-1.05,0.85,1.75,2.55,1.6,0.5,-0.1,-0.25,-0.35,-0.4,-0.35,-0.2,0.05,0.35,0.6,1.0,1.3,1.4,1.5,1.7,3.0,3.2,-0.2,-1.4,-0.1,1.1,1.7,1.3,1.15,0.85,0.5,0.2,0.05];
var PO8_lu = [-1.05,-1.2,-0.75,-0.1,0.85,1.45,-0.2,1.15,3.0,3.7,3.0,2.1,2.5,2.9,1.6,-1.2,-1.05,-0.4,0.2,0.85,1.3,3.0,4.2,2.35,-1.5,0.85,1.75,2.5,1.6,0.5,-0.3,-0.6,-0.65,-0.6,-0.6,-0.45,-0.2,0.15,0.35,0.55,0.85,1.0,1.15,1.4,2.3,2.9,-0.25,-1.45,-0.1,1.15,1.75,1.3,1.2,1.2,1.1,1.0,0.6];
var PO8_hp = [-1.05,-1.2,-0.75,-0.1,0.85,1.4,-0.2,1.15,3.0,3.65,3.0,2.1,2.55,3.0,1.15,-2.15,-2.55,-0.75,0.2,1.0,1.55,3.0,4.0,2.1,-1.9,0.85,1.75,2.8,1.75,0.35,-0.65,-0.9,-0.95,-0.9,-1.05,-1.2,-0.9,-0.5,-0.25,0.0,0.15,0.5,0.8,1.3,2.4,1.45,-0.7,-1.8,-0.25,1.45,1.9,1.15,1.3,1.45,1.6,1.75,1.0];
var PO8_hn = [-1.2,-1.3,-0.75,-0.1,0.85,1.4,-0.2,1.15,3.1,3.75,3.1,2.15,2.6,3.1,1.2,-2.0,-2.7,-0.75,0.5,1.15,1.6,3.1,4.6,2.3,-1.2,0.85,1.75,2.85,1.75,0.35,-0.35,-0.4,-0.55,-0.7,-0.8,-0.8,-0.6,-0.35,-0.05,0.35,0.65,0.8,1.0,1.45,2.85,1.6,-0.6,-1.6,-0.2,1.5,2.3,1.25,1.35,1.5,1.65,1.8,1.2];
var PO8_hu = [-1.05,-1.2,-0.75,-0.1,0.85,1.45,-0.2,1.15,3.0,3.7,3.0,2.1,2.55,3.0,1.15,-2.2,-3.0,-0.75,0.5,1.15,1.6,3.0,3.95,2.1,-1.5,0.85,1.75,2.8,1.75,0.35,-0.7,-1.05,-1.1,-0.95,-1.05,-1.05,-0.75,-0.5,-0.3,-0.1,0.35,0.5,0.8,1.3,2.4,1.45,-0.7,-1.75,-0.25,1.45,1.85,1.15,1.3,1.45,1.6,1.75,1.05];

var channels = ["F3","FZ","F4","C3","CZ","C4","P3","PZ","P4","PO7","OZ","PO8"];
var conditionLabels = ["Low-Load, Positive Faces","Low-Load, Negative Faces","Low-Load, Neutral Faces",
  "High-Load, Positive Faces","High-Load, Negative Faces","High-Load, Neutral Faces"];
var conditionColors = ["#ff0000","#0000ff","#00e000","#ff0000","#0000ff","#00e000"];
var xTicks = [-200,-100,0,100,200,300,400,500,600,700,800,900,1000,1100,1200,1300,1400,1500,1600];
var yTicks = [-4,-2,2,4];
var shadeWindow = [200, 260];
var secondOnset = 1050;

// annotations: [channel, label, arrow from (ms, µV), arrow to (ms, µV), text at (ms, µV), anchor]
var notes = [
  ["F4","N1",[560,-2.7],[390,-2.4],[605,-2.3],"start"],
  ["F4","PSW",[843,2.5],[786,1.4],[843,3.8],"middle"],
  ["P4","P300",[636,2.5],[464,1.55],[660,2.9],"start"],
  ["PO8","NSW",[990,-2.7],[867,-1.6],[1005,-2.35],"start"],
  ["PO8","P1",[586,4.0],[428,4.3],[635,4.45],"start"]
];

var waves = {
  F3:[F3_lp,F3_ln,F3_lu,F3_hp,F3_hn,F3_hu], FZ:[FZ_lp,FZ_ln,FZ_lu,FZ_hp,FZ_hn,FZ_hu], F4:[F4_lp,F4_ln,F4_lu,F4_hp,F4_hn,F4_hu],
  C3:[C3_lp,C3_ln,C3_lu,C3_hp,C3_hn,C3_hu], CZ:[CZ_lp,CZ_ln,CZ_lu,CZ_hp,CZ_hn,CZ_hu], C4:[C4_lp,C4_ln,C4_lu,C4_hp,C4_hn,C4_hu],
  P3:[P3_lp,P3_ln,P3_lu,P3_hp,P3_hn,P3_hu], PZ:[PZ_lp,PZ_ln,PZ_lu,PZ_hp,PZ_hn,PZ_hu], P4:[P4_lp,P4_ln,P4_lu,P4_hp,P4_hn,P4_hu],
  PO7:[PO7_lp,PO7_ln,PO7_lu,PO7_hp,PO7_hn,PO7_hu], OZ:[OZ_lp,OZ_ln,OZ_lu,OZ_hp,OZ_hn,OZ_hu], PO8:[PO8_lp,PO8_ln,PO8_lu,PO8_hp,PO8_hn,PO8_hu]
};

var colLeft = [39, 405.5, 767];
var rowTop = [39, 252, 464, 681];
var panelW = 330, panelH = 170;
var titleX = [181, 552, 920];
var titleY = [23, 250, 464, 678];

var svg = d3.select("#chart");

svg.append("defs").append("marker")
  .attr("id", "head")
  .attr("viewBox", "0 0 10 10")
  .attr("refX", 8).attr("refY", 5)
  .attr("markerWidth", 13).attr("markerHeight", 11)
  .attr("markerUnits", "userSpaceOnUse")
  .attr("orient", "auto")
  .append("path").attr("d", "M0,0 L10,5 L0,10 z").attr("fill", "#000");

var scales = {};

channels.forEach(function(ch, i){
  var col = i % 3, row = Math.floor(i / 3);
  var x = d3.scaleLinear().domain([-200, 1600]).range([colLeft[col], colLeft[col] + panelW]);
  var y = d3.scaleLinear().domain([-4, 4]).range([rowTop[row], rowTop[row] + panelH]);
  scales[ch] = {x: x, y: y};
  var g = svg.append("g").attr("class", "panel");

  g.append("rect")
    .attr("x", x(shadeWindow[0])).attr("width", x(shadeWindow[1]) - x(shadeWindow[0]))
    .attr("y", y(-4)).attr("height", y(4) - y(-4))
    .attr("fill", "#e3e3e3");

  g.append("line")
    .attr("x1", x(secondOnset)).attr("x2", x(secondOnset))
    .attr("y1", y(-4)).attr("y2", y(4))
    .attr("stroke", "#8a8a8a").attr("stroke-width", 1).attr("stroke-dasharray", "3,3");

  var xAxis = g.append("g")
    .attr("transform", "translate(0," + y(0) + ")")
    .call(d3.axisTop(x).tickValues(xTicks).tickSize(5).tickSizeOuter(0).tickFormat(""));
  xAxis.select(".domain").attr("stroke", "#555");
  xAxis.selectAll(".tick line").attr("stroke", "#333");

  var line = d3.line()
    .x(function(d, j){ return x(times[j]); })
    .y(function(d){ return y(d); })
    .curve(d3.curveCatmullRom.alpha(0.5));

  waves[ch].forEach(function(vals, k){
    g.append("path")
      .attr("d", line(vals))
      .attr("fill", "none")
      .attr("stroke", conditionColors[k])
      .attr("stroke-width", k < 3 ? 1.2 : 1.5)
      .attr("stroke-dasharray", k < 3 ? "3,2" : null);
  });

  var yAxis = g.append("g")
    .attr("transform", "translate(" + x(0) + ",0)")
    .call(d3.axisRight(y).tickValues(yTicks).tickSize(5).tickSizeOuter(0).tickFormat(""));
  yAxis.select(".domain").attr("stroke", "#222").attr("stroke-width", 2);
  yAxis.selectAll(".tick line").attr("stroke", "#222").attr("stroke-width", 2);

  g.append("text")
    .attr("x", titleX[col]).attr("y", titleY[row])
    .attr("font-size", 24)
    .text(ch);

  if (i === 0) {
    g.append("text").attr("x", x(0) - 6).attr("y", y(-4) + 8).attr("text-anchor", "end").attr("font-size", 21).text("-4");
    g.append("text").attr("x", x(0) + 5).attr("y", y(-4) + 9).attr("font-size", 21).text("(μV)");
    g.append("text").attr("x", x(0) - 8).attr("y", y(4) + 12).attr("text-anchor", "end").attr("font-size", 21).text("4");
    g.append("text").attr("x", x(-200) + 7).attr("y", y(0) + 19).attr("text-anchor", "end").attr("font-size", 21).text("-200");
    g.append("text").attr("x", x(1600)).attr("y", y(0) + 19).attr("text-anchor", "middle").attr("font-size", 21).text("1600");
    g.append("text").attr("x", x(1600) + 1).attr("y", y(0) + 45).attr("text-anchor", "middle").attr("font-size", 20).text("(ms)");
  }
});

notes.forEach(function(n){
  var s = scales[n[0]];
  svg.append("line")
    .attr("x1", s.x(n[2][0])).attr("y1", s.y(n[2][1]))
    .attr("x2", s.x(n[3][0])).attr("y2", s.y(n[3][1]))
    .attr("stroke", "#000").attr("stroke-width", 3)
    .attr("marker-end", "url(#head)");
  svg.append("text")
    .attr("x", s.x(n[4][0])).attr("y", s.y(n[4][1]))
    .attr("text-anchor", n[5]).attr("font-size", 21)
    .text(n[1]);
});

// legend
var legendRowY = [905, 942, 980];
var legendSampleX = [197, 529];
var legendTextX = [266, 592];
conditionLabels.forEach(function(label, k){
  var c = k < 3 ? 0 : 1, r = k % 3;
  svg.append("line")
    .attr("x1", legendSampleX[c]).attr("x2", legendSampleX[c] + 53)
    .attr("y1", legendRowY[r]).attr("y2", legendRowY[r])
    .attr("stroke", conditionColors[k])
    .attr("stroke-width", c === 0 ? 1.5 : 3)
    .attr("stroke-dasharray", c === 0 ? "10,11" : null);
  svg.append("text")
    .attr("x", legendTextX[c]).attr("y", legendRowY[r] + 8)
    .attr("font-size", 22)
    .text(label);
});
</script>
</body>
</html>
